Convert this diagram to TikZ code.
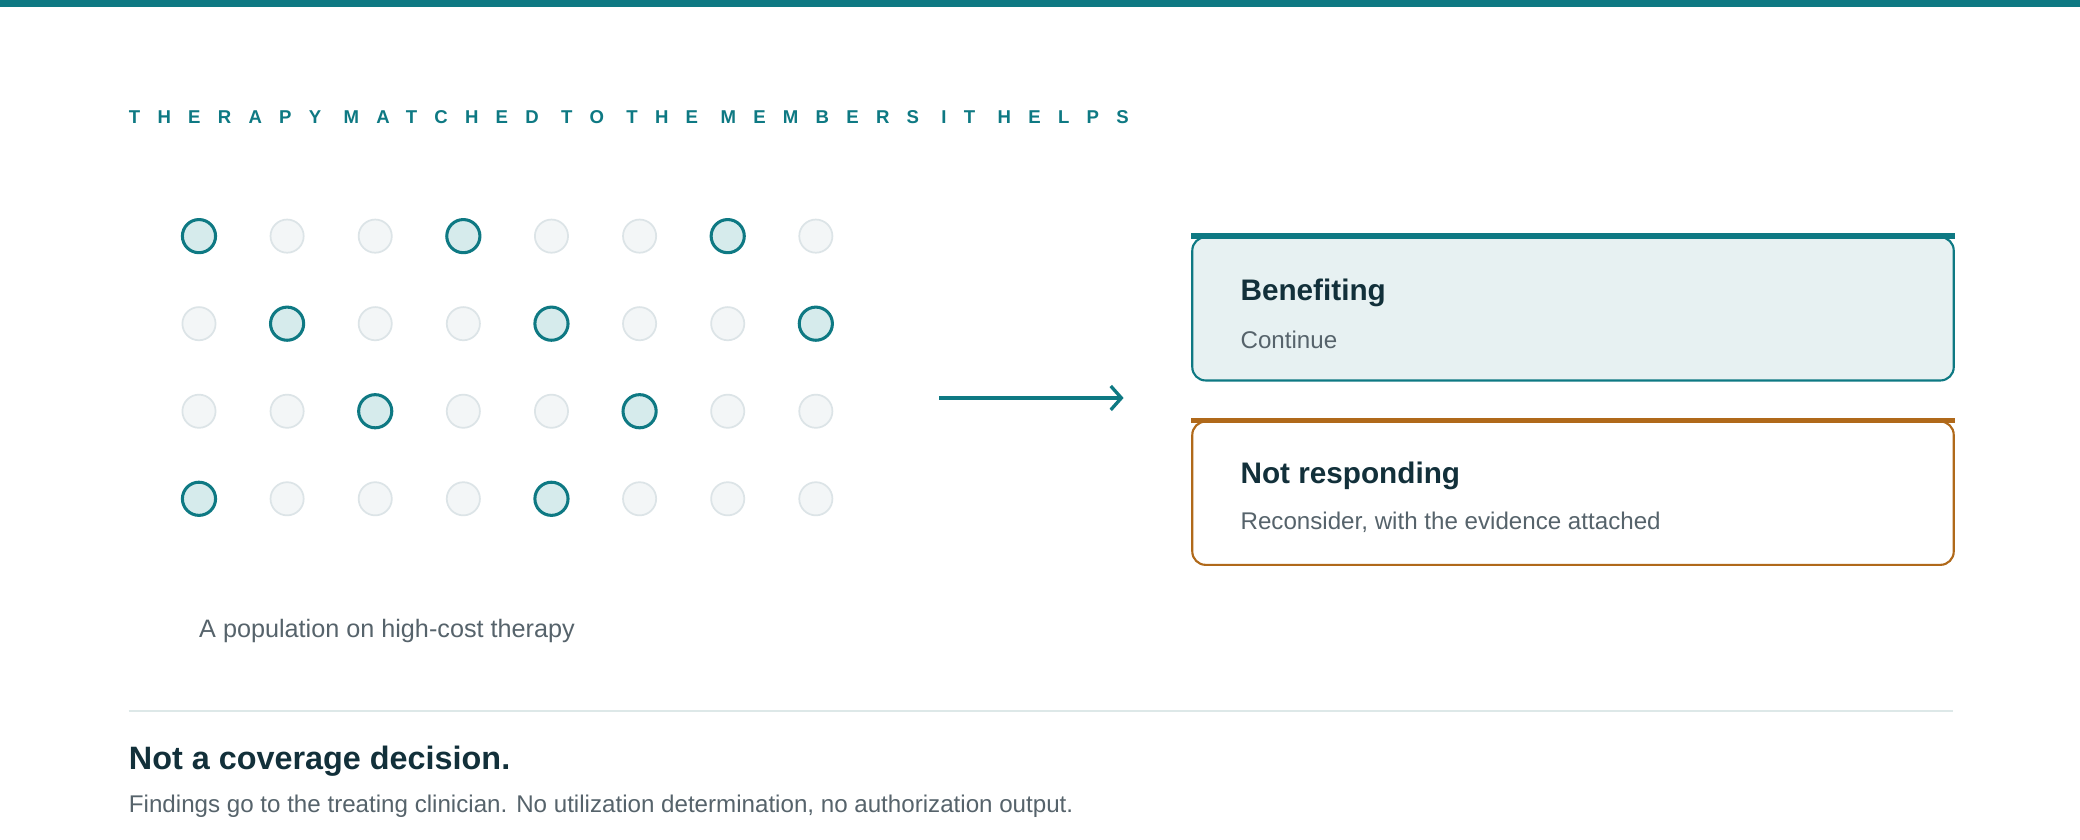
\documentclass[tikz,border=0pt]{standalone}
\usepackage{fontspec}
\setmainfont{Liberation Sans}
\usetikzlibrary{arrows.meta}
\definecolor{teal}{HTML}{0E7983}
\definecolor{tealfill}{HTML}{D6EBEC}
\definecolor{boxfill}{HTML}{E7F1F2}
\definecolor{ochre}{HTML}{B0691A}
\definecolor{ink}{HTML}{12303A}
\definecolor{muted}{HTML}{56636B}
\definecolor{faintfill}{HTML}{F3F6F7}
\definecolor{faintline}{HTML}{DCE4E7}
\definecolor{rule}{HTML}{DDE8E8}
\tikzset{
  on/.style={circle,minimum size=25pt,inner sep=0pt,draw=teal,line width=2.3pt,fill=tealfill},
  off/.style={circle,minimum size=25pt,inner sep=0pt,draw=faintline,line width=1.3pt,fill=faintfill},
  card/.style={rounded corners=10pt,line width=1.6pt,minimum width=574pt,minimum height=108pt,inner sep=0pt},
  head/.style={anchor=west,inner sep=0pt,font=\fontsize{22.4}{26}\selectfont\bfseries,text=ink},
  sub/.style={anchor=west,inner sep=0pt,font=\fontsize{18.2}{21}\selectfont,text=muted},
}
\begin{document}
\begin{tikzpicture}[x=1pt,y=-1pt]
\useasboundingbox (0,0) rectangle (1568,633);
\fill[white] (0,0) rectangle (1568,633);
\fill[teal] (0,0) rectangle (1568,5);
\node[anchor=west,inner sep=0pt,text=teal,font=\fontsize{14}{16}\selectfont\bfseries\addfontfeature{LetterSpace=93}] (title) at (97,88) {THERAPY MATCHED TO THE MEMBERS IT HELPS};
% dots
\foreach \r/\y/\pat in {1/178/{1,0,0,1,0,0,1,0},2/244/{0,1,0,0,1,0,0,1},3/310/{0,0,1,0,0,1,0,0},4/376/{1,0,0,0,1,0,0,0}}{
  \foreach \v [count=\c] in \pat {
    \pgfmathsetmacro{\xx}{150+(\c-1)*66.43}
    \ifnum\v=1 \node[on] (d\r\c) at (\xx,\y) {};
    \else \node[off] (d\r\c) at (\xx,\y) {}; \fi
  }
}
\node[anchor=west,inner sep=0pt,font=\fontsize{19}{22}\selectfont,text=muted] (cap) at (150,476) {A population on high-cost therapy};
\coordinate (a0) at (708,300);
\coordinate (a1) at (847,300);
\draw[teal,line width=2.5pt,-{Straight Barb[length=8pt,width=18pt,line width=2.5pt]}] (a0) -- (a1);
% cards
\node[card,draw=teal,fill=boxfill,anchor=north west] (b1) at (898,178) {};
\draw[teal,line width=4pt] (b1.north west) -- (b1.north east);
\node[head] (b1h) at (935,221) {Benefiting};
\node[sub] (b1s) at (935,256) {Continue};
\node[card,draw=ochre,fill=white,anchor=north west] (b2) at (898,317) {};
\draw[ochre,line width=4pt] (b2.north west) -- (b2.north east);
\node[head] (b2h) at (935,359) {Not responding};
\node[sub] (b2s) at (935,394) {Reconsider, with the evidence attached};
% footer
\draw[rule,line width=1.2pt] (97,536) -- (1472,536);
\node[anchor=west,inner sep=0pt,font=\fontsize{24.4}{28}\selectfont\bfseries,text=ink] (ft) at (97,574) {Not a coverage decision.};
\node[anchor=west,inner sep=0pt,font=\fontsize{18.2}{21}\selectfont,text=muted] (fs) at (97,608) {Findings go to the treating clinician. No utilization determination, no authorization output.};
\end{tikzpicture}
\end{document}
